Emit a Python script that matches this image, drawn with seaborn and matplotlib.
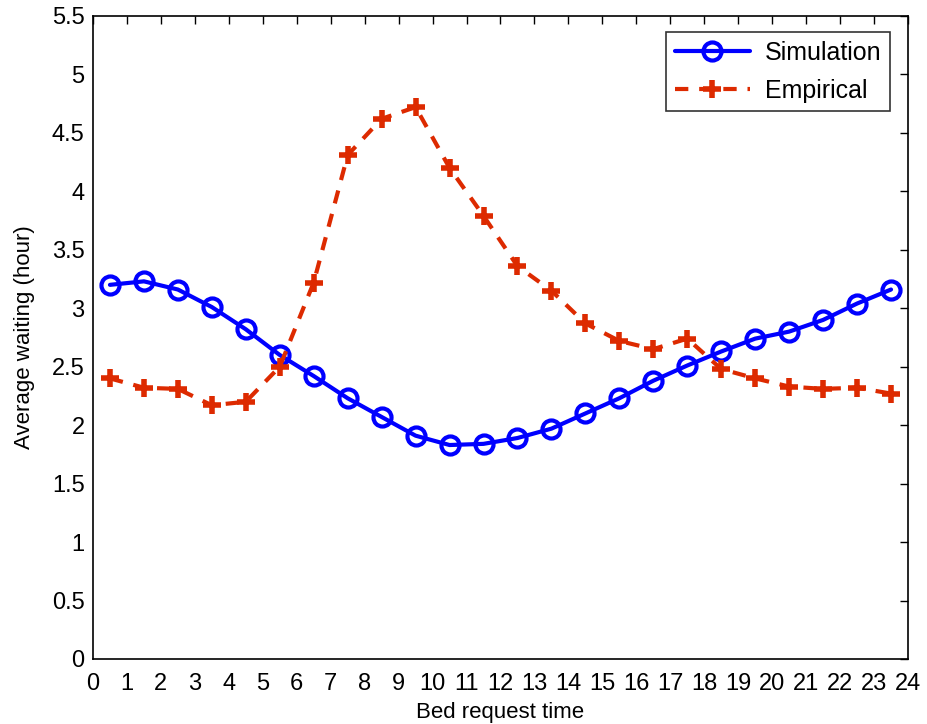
import matplotlib
matplotlib.use("Agg")
import matplotlib.pyplot as plt
import seaborn as sns
import numpy as np

hours = [0.5, 1.5, 2.5, 3.5, 4.5, 5.5, 6.5, 7.5, 8.5, 9.5, 10.5, 11.5,
         12.5, 13.5, 14.5, 15.5, 16.5, 17.5, 18.5, 19.5, 20.5, 21.5, 22.5, 23.5]
simulation = [3.20, 3.23, 3.16, 3.01, 2.82, 2.60, 2.42, 2.23, 2.07, 1.91, 1.83, 1.84,
              1.89, 1.97, 2.10, 2.23, 2.38, 2.51, 2.63, 2.74, 2.80, 2.90, 3.04, 3.16]
empirical = [2.40, 2.32, 2.31, 2.17, 2.20, 2.50, 3.22, 4.31, 4.62, 4.72, 4.20, 3.79,
             3.36, 3.15, 2.87, 2.72, 2.65, 2.74, 2.48, 2.40, 2.33, 2.31, 2.32, 2.27]
xticks = list(range(0, 25))
yticks = [0, 0.5, 1, 1.5, 2, 2.5, 3, 3.5, 4, 4.5, 5, 5.5]
ytick_labels = ["0", "0.5", "1", "1.5", "2", "2.5", "3", "3.5", "4", "4.5", "5", "5.5"]

sns.set_style("white")
plt.rcParams["font.family"] = ["Liberation Sans", "DejaVu Sans"]
plt.rcParams["text.color"] = "black"
plt.rcParams["axes.labelcolor"] = "black"

fig = plt.figure(figsize=(9.27, 7.24), dpi=100)
ax = fig.add_axes([0.1003, 0.0898, 0.8792, 0.8882])

sns.lineplot(x=hours, y=simulation, ax=ax, color="#0000FF", linewidth=3,
             marker="o", markersize=13, markerfacecolor="none",
             markeredgecolor="#0000FF", markeredgewidth=3, label="Simulation")
sns.lineplot(x=hours, y=empirical, ax=ax, color="#DD2A00", linewidth=3,
             linestyle=(0, (3.2, 2.6)), marker="+", markersize=13,
             markeredgewidth=4, markeredgecolor="#DD2A00", label="Empirical")

ax.set_xlim(0, 24)
ax.set_ylim(0, 5.5)
ax.set_xticks(xticks)
ax.set_xticklabels([str(t) for t in xticks])
ax.set_yticks(yticks)
ax.set_yticklabels(ytick_labels)
ax.tick_params(axis="x", pad=10)
ax.tick_params(axis="y", pad=6)
ax.tick_params(direction="in", length=6, width=1, top=True, right=True,
               labelsize=17, colors="black", labelcolor="black")
for s in ax.spines.values():
    s.set_visible(True)
    s.set_color("black")
    s.set_linewidth(1.2)
ax.set_xlabel("Bed request time", fontsize=16, labelpad=5, color="black")
ax.set_ylabel("Average waiting (hour)", fontsize=16, labelpad=12, color="black")

leg = ax.legend(loc="upper right", fontsize=18, frameon=True, fancybox=False,
                edgecolor="black", handlelength=3.0, handletextpad=0.6,
                borderpad=0.35, labelspacing=0.55, borderaxespad=0,
                bbox_to_anchor=(0.978, 0.975))
leg.get_frame().set_linewidth(1.2)
for t in leg.get_texts():
    t.set_color("black")

fig.savefig("out.png", dpi=100)
